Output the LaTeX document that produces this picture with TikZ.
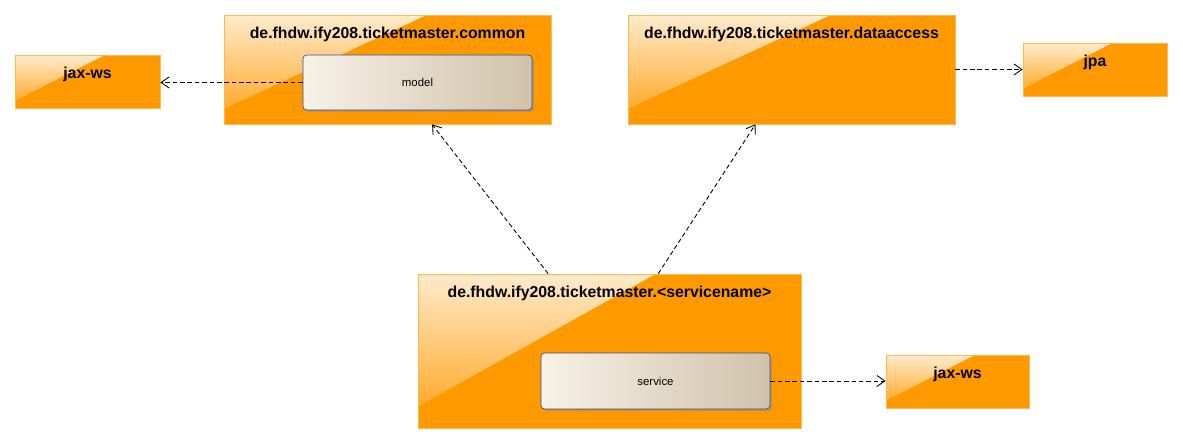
\documentclass[tikz,border=0pt]{standalone}
\usepackage{fontspec}
\setmainfont{Liberation Sans}
\usetikzlibrary{positioning,arrows.meta,calc,shadows}
\definecolor{pkgorange}{HTML}{FF9900}
\definecolor{pkgedge}{HTML}{FFB850}
\definecolor{clsblue}{HTML}{2F4F9F}
\definecolor{clslight}{HTML}{F7F1E7}
\definecolor{clsdark}{HTML}{D0C2AA}

\tikzset{
  gloss/.style={path picture={
      \shade[shading angle=45, top color=white!80!pkgorange, bottom color=white!8!pkgorange]
        (path picture bounding box.north west)
        -- ($(path picture bounding box.north west)!0.62!(path picture bounding box.north east)$)
        -- ($(path picture bounding box.north west)!0.86!(path picture bounding box.south west)$)
        -- cycle;}},
  pkg/.style={draw=pkgedge, fill=pkgorange, gloss, inner sep=0pt},
  pkgtitle/.style={label={[anchor=north, font=\bfseries\fontsize{9}{10}\selectfont, yshift=-3.3pt]north:#1}},
  cls/.style={draw=clsblue, rounded corners=2pt, left color=clslight, right color=clsdark,
    drop shadow={shadow xshift=1.2pt, shadow yshift=-1.2pt, fill=black!45, opacity=0.5},
    font=\fontsize{6.5}{8}\selectfont, minimum width=4.58cm},
  dep/.style={draw=black, line width=0.5pt, dash pattern=on 2.6pt off 1.6pt, -{Straight Barb[length=1.6mm, width=2.2mm]}}
}

\begin{document}
\begin{tikzpicture}[x=0.02cm, y=-0.02cm]
  \useasboundingbox (0,0) rectangle (1183,445);

  % packages
  \node[pkg, pkgtitle={de.fhdw.ify208.ticketmaster.common}, minimum width=6.54cm, minimum height=2.18cm] (common) at (387.5,69.5) {};
  \node[pkg, pkgtitle={de.fhdw.ify208.ticketmaster.dataaccess}, minimum width=6.54cm, minimum height=2.18cm] (dataaccess) at (791.5,69.5) {};
  \node[pkg, pkgtitle={de.fhdw.ify208.ticketmaster.<servicename>}, minimum width=7.66cm, minimum height=3.08cm] (servicepkg) at (609.5,351) {};
  \node[pkg, pkgtitle={jax-ws}, minimum width=2.9cm, minimum height=1.06cm] (jaxwsleft) at (87.5,81.5) {};
  \node[pkg, pkgtitle={jpa}, minimum width=2.88cm, minimum height=1.06cm] (jpa) at (1095,69.5) {};
  \node[pkg, pkgtitle={jax-ws}, minimum width=2.86cm, minimum height=1.06cm] (jaxwsright) at (957.5,381.5) {};

  % classes
  \node[cls, minimum height=1.1cm] (model) at (417.5,82.5) {model};
  \node[cls, minimum height=1.12cm] (service) at (655.5,381) {service};

  % dependencies
  \draw[dep] (model.west) -- (jaxwsleft.east |- model.west);
  \draw[dep] (dataaccess.east) -- (jpa.west |- dataaccess.east);
  \draw[dep] (service.east) -- (jaxwsright.west |- service.east);
  \draw[dep] ($(servicepkg.north west)!0.34!(servicepkg.north east)$) -- ($(common.south west)!0.636!(common.south east)$);
  \draw[dep] ($(servicepkg.north west)!0.627!(servicepkg.north east)$) -- ($(dataaccess.south west)!0.39!(dataaccess.south east)$);
\end{tikzpicture}
\end{document}
